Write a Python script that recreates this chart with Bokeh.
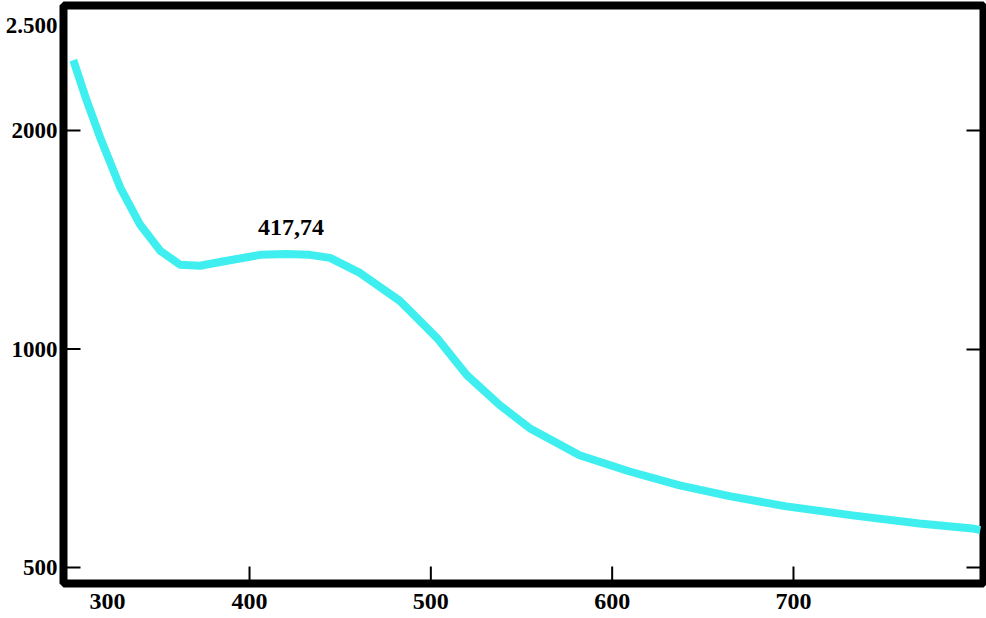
import math
from bokeh.plotting import figure
from bokeh.models import FixedTicker, LogAxis, Range1d, CustomJSTickFormatter
from bokeh.core.properties import value
from bokeh.embed import file_html
from bokeh.resources import INLINE

# wavelength (nm) and signal
wavelength = [302.8, 310.2, 317.6, 328.7, 339.7, 350.7, 361.7, 372.7, 387.6,
              405.8, 420.0, 433.3, 444.4, 460.9, 482.9, 503.3, 519.8, 538.0, 554.5,
              582.0, 609.6, 637.2, 664.7, 696.1, 732.5, 769.4, 798.6, 803.0]
signal = [2500, 2198, 1956, 1669, 1483, 1366, 1306, 1302, 1323,
          1348, 1352, 1348, 1335, 1273, 1165, 1036, 921, 837, 778,
          714, 678, 649, 627, 607, 590, 575, 566, 563]

x_ticks = [400, 500, 600, 700]
y_ticks = [500, 1000, 2000]
first_x_label = "300"
first_x_label_pos = 321.7
top_y_label = "2.500"
top_y_label_pos = 2790
peak_label = ["417,74"]
peak_x = [422.9]
peak_y = [1469]

X_RANGE = (297.4, 804.8)
Y_RANGE = (475.3, 2973)
FONT = "Liberation Serif"

p = figure(width=986, height=618, output_backend="svg", toolbar_location=None,
           y_axis_type="log", x_range=Range1d(*X_RANGE), y_range=Range1d(*Y_RANGE),
           min_border_left=63, min_border_right=3, min_border_top=5, min_border_bottom=35)
p.background_fill_color = "white"
p.border_fill_color = "white"
p.grid.visible = False
p.outline_line_color = "black"
p.outline_line_width = 8

p.line(wavelength, signal, line_color="#3FEFEF", line_width=8, line_join="round")

p.text(x=peak_x, y=peak_y, text=peak_label, text_font=value(FONT), text_font_style="bold",
       text_font_size="24px", text_align="center", text_baseline="middle", text_color="black")

# inward tick marks on the bottom and left edges
p.scatter(x=x_ticks, y=[Y_RANGE[0]] * len(x_ticks), marker="dash", size=34,
          angle=math.pi / 2, line_color="black", line_width=2)
p.scatter(x=[X_RANGE[0]] * len(y_ticks), y=y_ticks, marker="dash", size=34,
          line_color="black", line_width=2)

for ax in [p.xaxis[0], p.yaxis[0]]:
    ax.axis_line_color = None
    ax.major_tick_line_color = None
    ax.major_tick_in = 0
    ax.major_tick_out = 0
    ax.minor_tick_line_color = None
    ax.minor_tick_in = 0
    ax.minor_tick_out = 0
    ax.major_label_text_font = FONT
    ax.major_label_text_font_style = "bold"
    ax.major_label_text_color = "black"

p.xaxis[0].ticker = FixedTicker(ticks=[first_x_label_pos] + x_ticks)
p.xaxis[0].major_label_overrides = {first_x_label_pos: first_x_label}
p.xaxis[0].major_label_standoff = 10
p.xaxis[0].major_label_text_font_size = "24px"
p.xaxis[0].formatter = CustomJSTickFormatter(code="return tick.toFixed(0);")

p.yaxis[0].ticker = FixedTicker(ticks=y_ticks + [top_y_label_pos])
p.yaxis[0].major_label_overrides = {top_y_label_pos: top_y_label}
p.yaxis[0].major_label_standoff = 6
p.yaxis[0].major_label_text_font_size = "23px"
p.yaxis[0].formatter = CustomJSTickFormatter(code="return tick.toFixed(0);")

right = LogAxis(ticker=FixedTicker(ticks=y_ticks), axis_line_color=None,
                major_tick_in=17, major_tick_out=0, major_tick_line_width=2,
                minor_tick_line_color=None, major_label_text_font_size="1px",
                major_label_text_alpha=0, major_label_standoff=0)
p.add_layout(right, "right")

open("out.html", "w").write(file_html(p, INLINE))
